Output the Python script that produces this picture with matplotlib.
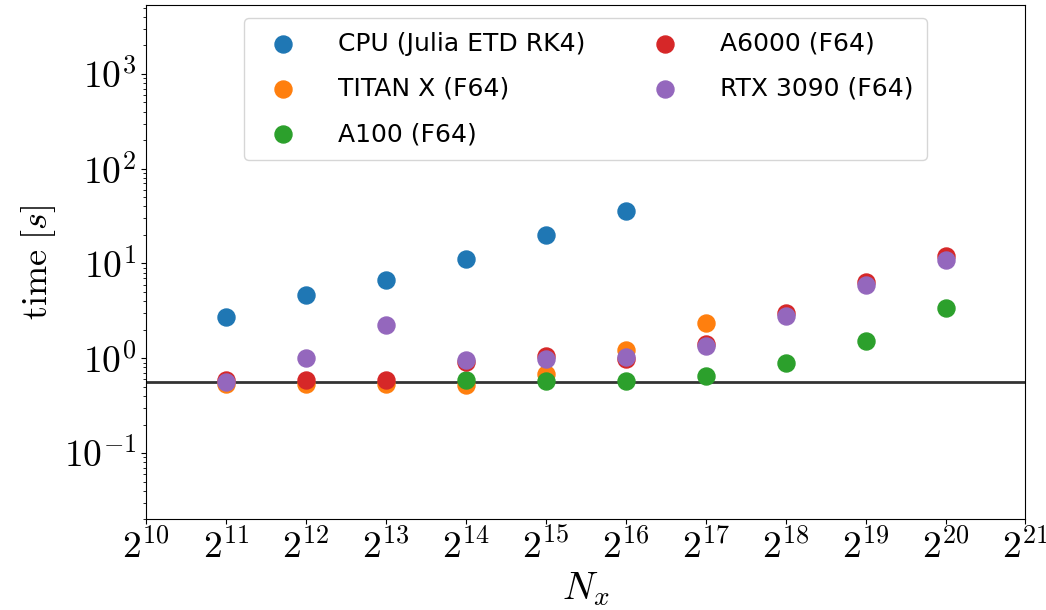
import matplotlib
matplotlib.use("Agg")
import matplotlib.pyplot as plt
from matplotlib.ticker import LogLocator, FuncFormatter
import numpy as np

plt.rcParams['mathtext.fontset'] = 'cm'
plt.rcParams['font.family'] = 'DejaVu Sans'

# grid sizes are powers of two
cpu_exp = [11, 12, 13, 14, 15, 16]
cpu_time = [2.71, 4.68, 6.63, 11.25, 20.1, 35.6]

titan_exp = [11, 12, 13, 14, 15, 16, 17]
titan_time = [0.54, 0.54, 0.54, 0.527, 0.684, 1.21, 2.35]

a100_exp = [14, 15, 16, 17, 18, 19, 20]
a100_time = [0.59, 0.58, 0.58, 0.656, 0.885, 1.54, 3.41]

a6000_exp = [11, 12, 13, 14, 15, 16, 17, 18, 19, 20]
a6000_time = [0.59, 0.59, 0.59, 0.907, 1.055, 0.985, 1.42, 2.99, 6.37, 11.9]

rtx_exp = [11, 12, 13, 14, 15, 16, 17, 18, 19, 20]
rtx_time = [0.567, 1.0, 2.26, 0.969, 0.986, 1.03, 1.36, 2.76, 5.87, 10.98]

baseline = 0.557

series = [
    ("CPU (Julia ETD RK4)", cpu_exp, cpu_time),
    ("TITAN X (F64)", titan_exp, titan_time),
    ("A100 (F64)", a100_exp, a100_time),
    ("A6000 (F64)", a6000_exp, a6000_time),
    ("RTX 3090 (F64)", rtx_exp, rtx_time),
]

fig = plt.figure(figsize=(10.46, 6.10), dpi=100)
ax = fig.add_axes([0.1396, 0.1487, 0.8408, 0.8426])

for i, (label, ex, t) in enumerate(series):
    nx = 2.0 ** np.array(ex)
    ax.scatter(nx, t, s=150, color=f"C{i}", label=label, zorder=3)

ax.axhline(baseline, color='black', alpha=0.8, lw=2, zorder=2)

ax.set_xscale('log', base=2)
ax.set_yscale('log')
ax.set_xlim(2 ** 10, 2 ** 21)
ax.set_ylim(0.02, 5300)
ax.xaxis.set_major_locator(LogLocator(base=2, numticks=20))
ax.xaxis.set_major_formatter(FuncFormatter(lambda v, p: r'$2^{%d}$' % round(np.log2(v))))
ax.yaxis.set_major_formatter(FuncFormatter(lambda v, p: r'$10^{%d}$' % round(np.log10(v))))

ax.tick_params(axis='both', which='major', labelsize=27)
ax.set_xlabel(r'$N_x$', fontsize=28, labelpad=3)
ax.set_ylabel(r'$\mathrm{time}\ [s]$', fontsize=26)

ax.legend(loc='upper center', ncol=2, fontsize=18, handletextpad=1.2,
          labelspacing=0.85, columnspacing=2.2, borderpad=0.55)

fig.savefig('out.png', dpi=100)
